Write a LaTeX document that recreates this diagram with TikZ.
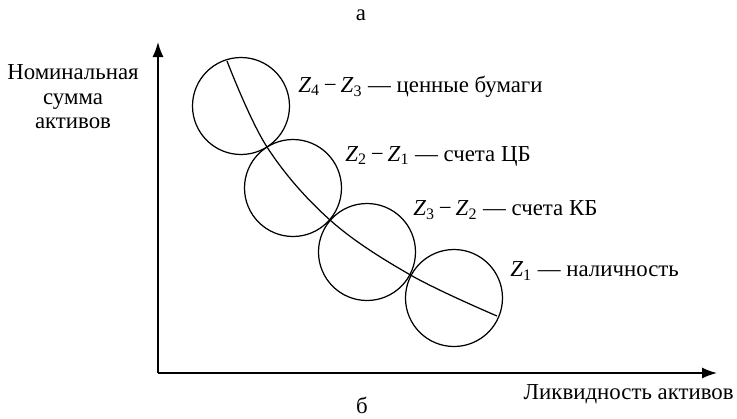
\documentclass[tikz,border=0pt]{standalone}
\usepackage{fontspec}
\setmainfont{Liberation Serif}
\usepackage{tikz}
\usetikzlibrary{positioning,arrows.meta,calc}
\newcommand{\zsub}[1]{\textit{Z}\textsubscript{#1}}

\begin{document}
\begin{tikzpicture}[
  font=\fontsize{13}{14}\selectfont,
  disk/.style={draw, circle, minimum size=1.94cm, inner sep=0pt, line width=0.7pt},
  ax/.style={-{Latex[length=3mm,width=2.2mm]}, line width=0.8pt},
  lbl/.style={anchor=west, inner sep=0pt},
]
  \useasboundingbox (-3.16,-0.9) rectangle (11.58,7.46);

  % axes
  \coordinate (o)    at (0,0);
  \coordinate (ytip) at (0,6.62);
  \coordinate (xtip) at (11.18,0);
  \draw[ax] (o) -- (ytip);
  \draw[ax] (o) -- (xtip);

  % touching circles
  \node[disk] (c4) at (1.66,5.34) {};
  \node[disk] (c2) at (2.70,3.70) {};
  \node[disk] (c3) at (4.18,2.42) {};
  \node[disk] (c1) at (5.92,1.50) {};

  % curve through the touching points
  \coordinate (cs)  at (1.38,6.24);
  \coordinate (ce)  at (6.78,1.14);
  \coordinate (t42) at ($(c4)!0.5!(c2)$);
  \coordinate (t23) at ($(c2)!0.5!(c3)$);
  \coordinate (t31) at ($(c3)!0.5!(c1)$);
  \draw[line width=0.7pt] plot[smooth, tension=0.6] coordinates {(cs) (t42) (t23) (t31) (ce)};

  \node[lbl] (l4) at (2.80,5.72) {\zsub{4}\,−\,\zsub{3} — ценные бумаги};
  \node[lbl] (l2) at (3.74,4.34) {\zsub{2}\,−\,\zsub{1} — счета ЦБ};
  \node[lbl] (l3) at (5.10,3.26) {\zsub{3}\,−\,\zsub{2} — счета КБ};
  \node[lbl] (l1) at (7.04,2.04) {\zsub{1} — наличность};

  \node[align=center] (ylab) at (-1.70,5.52) {Номинальная\\сумма\\активов};
  \node[anchor=east, inner sep=0pt] (xlab) at (11.52,-0.42) {Ликвидность активов};

  \node[inner sep=0pt] (ta) at (4.06,7.16) {а};
  \node[inner sep=0pt] (tb) at (4.08,-0.64) {б};
\end{tikzpicture}
\end{document}
